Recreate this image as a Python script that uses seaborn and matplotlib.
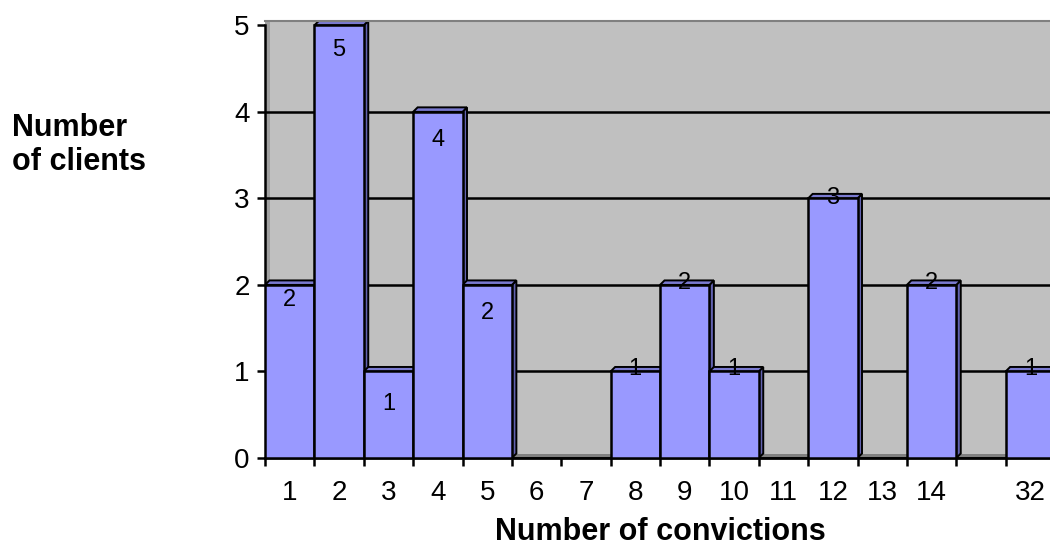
import numpy as np
import pandas as pd
import matplotlib
matplotlib.use("Agg")
import matplotlib.pyplot as plt
from matplotlib.patches import Polygon
import seaborn as sns

# Number of convictions per client (category labels) and client counts
convictions = ["1", "2", "3", "4", "5", "6", "7", "8", "9", "10",
               "11", "12", "13", "14", "", "32"]
clients = [2, 5, 1, 4, 2, 0, 0, 1, 2, 1, 0, 3, 0, 2, 0, 1]
y_ticks = [0, 1, 2, 3, 4, 5]

# how far each value label sits below its bar top (pixels)
label_drop_px = [15, 25, 33, 28, 28, 0, 0, -2, -2, -2, 0, 0, 0, -2, 0, -2]

sns.set_theme(style="white")
plt.rcParams["font.family"] = ["Liberation Sans", "DejaVu Sans"]
plt.rcParams.update({"text.color": "black", "axes.labelcolor": "black",
                     "xtick.color": "black", "ytick.color": "black"})

W, H = 1050, 552
fig = plt.figure(figsize=(W / 100, H / 100), dpi=100)
fig.patch.set_facecolor("white")
ax = fig.add_axes([265 / W, 94 / H, 790 / W, 437 / H])

df = pd.DataFrame({"convictions": convictions, "clients": clients})
sns.barplot(data=df, x="convictions", y="clients", order=convictions,
            color="#9999FF", saturation=1, width=1, edgecolor="black",
            linewidth=1.8, ax=ax, zorder=3)
bars = list(ax.patches)

ax.set_xlim(-0.5, len(convictions) - 0.5)
ax.set_ylim(0, 5.05)

# pseudo-3D depth of the bars, in data units
dx = 4.5 / (790 / len(convictions))
dy = 4.5 / (437 / 5.05)

# back wall, floor and side wall
ax.set_facecolor("#C0C0C0")
ax.axhspan(0, dy, color="#808080", zorder=0.8, lw=0)
ax.axvspan(-0.5, -0.5 + dx, color="#A0A0A0", zorder=0.8, lw=0)
for t in y_ticks[1:-1]:
    ax.axhline(t, color="black", lw=1.8, zorder=1)

# side and top faces of each bar
for bar in bars:
    h = bar.get_height()
    if h <= 0:
        continue
    x0 = bar.get_x()
    x1 = x0 + bar.get_width()
    side = Polygon([(x1, 0), (x1 + dx, dy), (x1 + dx, h + dy), (x1, h)],
                   closed=True, facecolor="#6262B0", edgecolor="black",
                   lw=1.4, zorder=2.5)
    top = Polygon([(x0, h), (x0 + dx, h + dy), (x1 + dx, h + dy), (x1, h)],
                  closed=True, facecolor="#7A7AD0", edgecolor="black",
                  lw=1.4, zorder=2.5)
    ax.add_patch(side)
    ax.add_patch(top)

# value labels
centers = [b.get_x() + b.get_width() / 2 for b in bars]
for cx, v, drop in zip(centers, clients, label_drop_px):
    if v == 0:
        continue
    ax.annotate(str(v), xy=(cx, v), xytext=(0, -drop * 0.72),
                textcoords="offset points", ha="center", va="center",
                fontsize=17, color="black", zorder=6)

# spines
ax.spines["right"].set_visible(False)
ax.spines["top"].set_color("#808080")
ax.spines["top"].set_linewidth(1.5)
ax.spines["left"].set_color("black")
ax.spines["left"].set_linewidth(1.8)
ax.spines["left"].set_bounds(0, 5)
ax.spines["bottom"].set_color("black")
ax.spines["bottom"].set_linewidth(2)

# y axis ticks
ax.set_yticks(y_ticks)
ax.set_yticklabels([str(t) for t in y_ticks])
ax.tick_params(axis="y", left=True, direction="out", length=6, width=1.8,
               color="black", labelsize=20, pad=5, labelcolor="black")

# x axis: tick marks between categories, labels centred on them
bounds = np.arange(-0.5, len(convictions), 1.0)
ax.set_xticks(bounds, labels=[""] * len(bounds))
ax.set_xticks(centers, labels=convictions, minor=True)
ax.tick_params(axis="x", which="major", bottom=True, direction="out",
               length=6, width=1.8, color="black")
ax.tick_params(axis="x", which="minor", bottom=True, length=0,
               labelsize=20, pad=16, labelcolor="black")

ax.set_xlabel("Number of convictions", fontsize=22, fontweight="bold",
              labelpad=8, color="black")
ax.set_ylabel("")
fig.text(12 / W, 1 - 145 / H, "Number\nof clients", ha="left", va="center",
         fontsize=22, fontweight="bold", linespacing=1.2, color="black")

fig.savefig("out.png", dpi=100)
